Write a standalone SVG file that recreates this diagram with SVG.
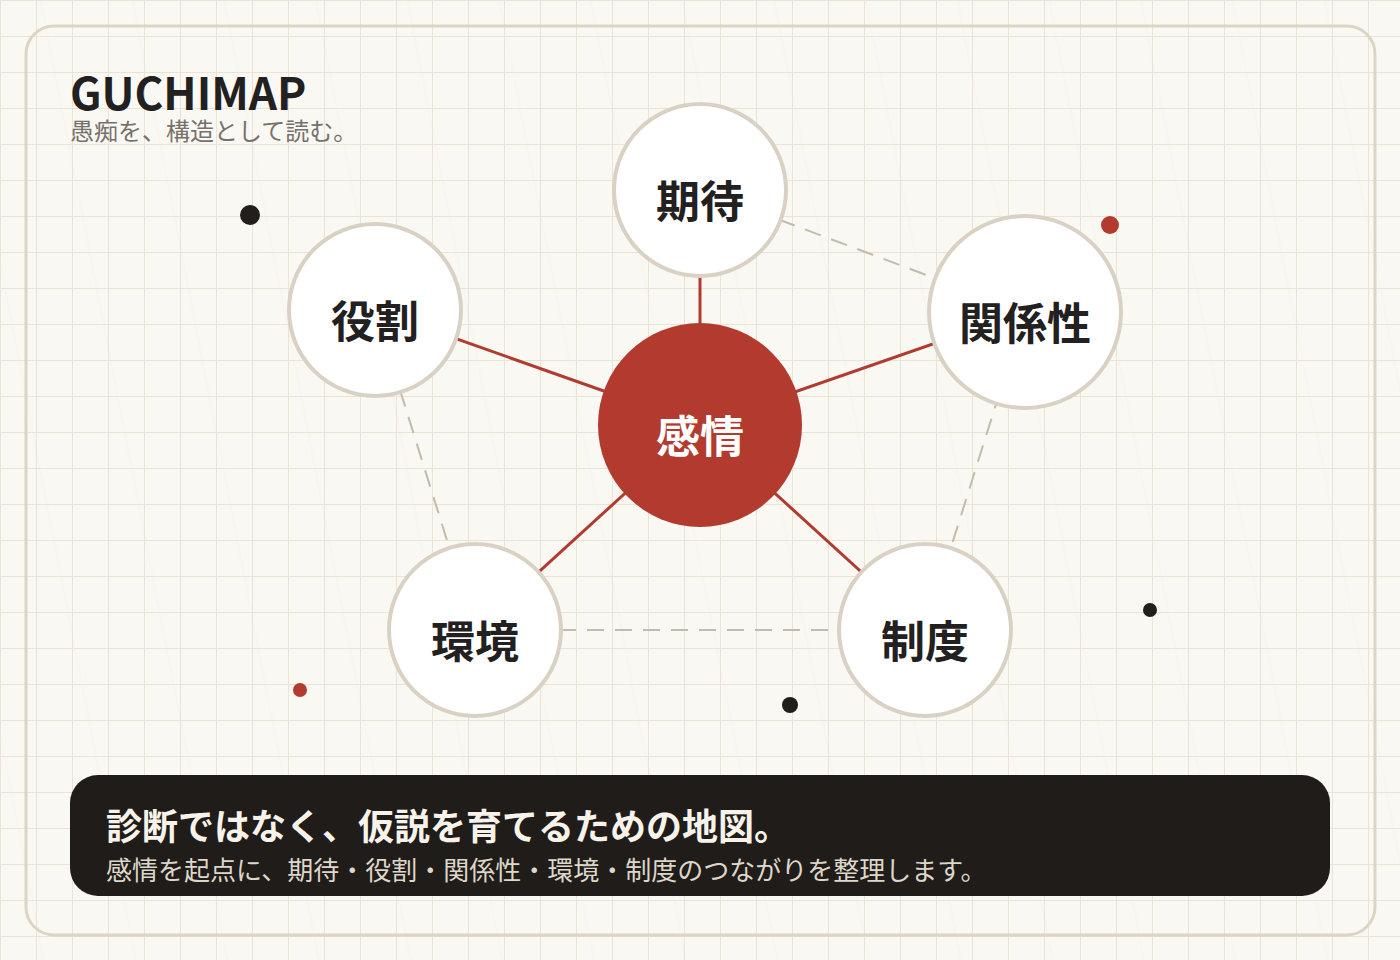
<svg xmlns="http://www.w3.org/2000/svg" width="1400" height="960" viewBox="0 0 1400 960">
  <defs>
    <pattern id="grid" width="36" height="36" patternUnits="userSpaceOnUse">
      <path d="M0 0 H36 M0 0 V36" fill="none" stroke="#ebe3d3" stroke-width="2"/>
    </pattern>
    <pattern id="fibers" width="90" height="960" patternUnits="userSpaceOnUse" patternTransform="rotate(-11)">
      <line x1="40" y1="0" x2="40" y2="960" stroke="#efe9dc" stroke-width="1" opacity="0.3"/>
    </pattern>
    <style>
      .frame{fill:none;stroke:#dcd5c6;stroke-width:3}
      .node circle{fill:#ffffff;stroke:#d9d2c4;stroke-width:4}
      .node text{font-family:"Noto Sans CJK JP","Noto Sans",sans-serif;font-weight:700;font-size:44px;fill:#222020;text-anchor:middle}
      #n-center circle{fill:#b23a2f;stroke:none}
      #n-center text{fill:#ffffff}
      .spoke{stroke:#b23a2f;stroke-width:3;fill:none}
      .dash{stroke:#c3bbab;stroke-width:2;stroke-dasharray:17 11;fill:none}
      .dot-dark{fill:#221e1b}
      .dot-red{fill:#b23a2f}
      .title{font-family:"Noto Sans CJK JP","Noto Sans",sans-serif;font-weight:700;font-size:44px;fill:#222020}
      .subtitle{font-family:"Noto Sans CJK JP",sans-serif;font-size:24px;fill:#77716b}
      .banner-h{font-family:"Noto Sans CJK JP",sans-serif;font-weight:700;font-size:36px;fill:#f7f3ea}
      .banner-s{font-family:"Noto Sans CJK JP",sans-serif;font-size:26px;fill:#ddd7ca}
    </style>
  </defs>

  <rect width="1400" height="960" fill="#faf8f2"/>
  <rect width="1400" height="960" fill="url(#fibers)"/>
  <rect width="1400" height="960" fill="url(#grid)"/>

  <rect class="frame" x="26" y="26" width="1349" height="909" rx="28"/>

  <g id="header">
    <text class="title" x="70" y="110">GUCHIMAP</text>
    <text class="subtitle" x="70" y="140">愚痴を、構造として読む。</text>
  </g>

  <g id="dots">
    <circle class="dot-dark" cx="250" cy="215" r="10"/>
    <circle class="dot-red" cx="1110" cy="225" r="9"/>
    <circle class="dot-red" cx="300" cy="690" r="7"/>
    <circle class="dot-dark" cx="790" cy="705" r="8"/>
    <circle class="dot-dark" cx="1150" cy="610" r="7"/>
  </g>

  <g id="connectors">
    <line class="dash" x1="700" y1="190" x2="1025" y2="312"/>
    <line class="dash" x1="1025" y1="312" x2="925" y2="630"/>
    <line class="dash" x1="475" y1="630" x2="925" y2="630"/>
    <line class="dash" x1="375" y1="310" x2="475" y2="630"/>
    <line class="spoke" x1="700" y1="425" x2="700" y2="190"/>
    <line class="spoke" x1="700" y1="425" x2="375" y2="310"/>
    <line class="spoke" x1="700" y1="425" x2="1025" y2="312"/>
    <line class="spoke" x1="700" y1="425" x2="475" y2="630"/>
    <line class="spoke" x1="700" y1="425" x2="925" y2="630"/>
  </g>

  <g id="n-kitai" class="node">
    <circle cx="700" cy="190" r="86"/>
    <text x="700" y="218">期待</text>
  </g>
  <g id="n-yakuwari" class="node">
    <circle cx="375" cy="310" r="86"/>
    <text x="375" y="338">役割</text>
  </g>
  <g id="n-kankeisei" class="node">
    <circle cx="1025" cy="312" r="96"/>
    <text x="1025" y="340">関係性</text>
  </g>
  <g id="n-kankyo" class="node">
    <circle cx="475" cy="630" r="86"/>
    <text x="475" y="658">環境</text>
  </g>
  <g id="n-seido" class="node">
    <circle cx="925" cy="630" r="86"/>
    <text x="925" y="658">制度</text>
  </g>
  <g id="n-center" class="node">
    <circle cx="700" cy="425" r="102"/>
    <text x="700" y="453">感情</text>
  </g>

  <g id="banner">
    <rect x="70" y="775" width="1260" height="121" rx="28" fill="#201c19"/>
    <text class="banner-h" x="106" y="840">診断ではなく、仮説を育てるための地図。</text>
    <text class="banner-s" x="106" y="880">感情を起点に、期待・役割・関係性・環境・制度のつながりを整理します。</text>
  </g>
</svg>
